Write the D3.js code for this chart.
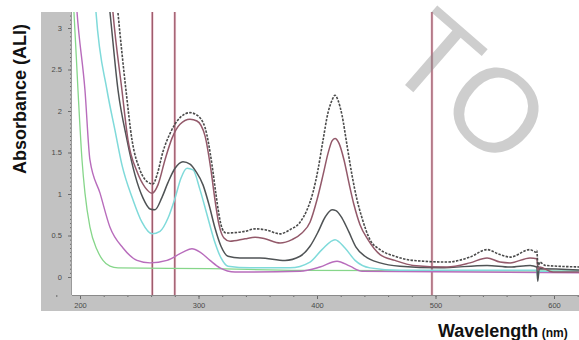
<!DOCTYPE html>
<html>
<head>
<meta charset="utf-8">
<script src="https://cdn.jsdelivr.net/npm/d3@7"></script>
<style>
  html, body { margin: 0; padding: 0; background: #fff; }
  svg { display: block; font-family: "Liberation Sans", Arial, sans-serif; }
</style>
</head>
<body>
<svg id="chart" width="579" height="340"></svg>
<script>
// spectra, [wavelength nm, absorbance]
const specTop = [[230,3.5],[232,3.19],[238.8,2.25],[243.9,1.65],[250.6,1.29],[257.4,1.14],[261.6,1.12],[265,1.23],[270,1.51],[276,1.73],[284.4,1.92],[292.8,1.98],[298.7,1.95],[305.5,1.8],[311.4,1.35],[314.8,0.99],[317.3,0.75],[319.8,0.59],[323.2,0.53],[339.2,0.55],[347.7,0.58],[356.1,0.57],[368.8,0.52],[377.2,0.57],[385.7,0.66],[391.6,0.81],[396.6,1.02],[400.8,1.29],[405.1,1.65],[409.3,1.98],[412.7,2.13],[415.2,2.19],[417.7,2.13],[421.1,1.95],[425.3,1.59],[429.5,1.23],[433.8,0.93],[438,0.71],[444.7,0.45],[453.2,0.33],[465.8,0.25],[481,0.2],[509.7,0.18],[529.1,0.24],[543.5,0.33],[554.4,0.27],[562.9,0.24],[579.8,0.33],[584.8,0.3],[585.5,0.32],[586.5,0.12],[588,0.18],[592.4,0.14],[625,0.12]];
const specMaroon = [[226,3.5],[227.8,3.19],[235.4,2.25],[240.5,1.65],[248.1,1.27],[254.9,1.08],[260.8,1.01],[265.8,1.11],[271.7,1.41],[277.6,1.67],[284.4,1.84],[292.8,1.9],[298.7,1.88],[305.5,1.7],[310.5,1.29],[313.9,0.93],[317.3,0.63],[321.5,0.47],[326.6,0.43],[339.2,0.46],[347.7,0.48],[356.1,0.46],[368.8,0.41],[378.9,0.45],[387.3,0.53],[394.1,0.66],[400,0.93],[405.1,1.23],[409.3,1.49],[412.7,1.64],[415.2,1.67],[418.6,1.61],[422.8,1.41],[427,1.13],[431.2,0.87],[436.3,0.63],[443,0.45],[453.2,0.27],[465.8,0.2],[481,0.14],[509.7,0.12],[529.1,0.17],[543.5,0.23],[554.4,0.18],[562.9,0.17],[579.8,0.23],[585.5,0.22],[586.5,0.08],[588,0.12],[599.2,0.06],[625,0.06]];
const specGrey = [[223,3.5],[225.3,3.19],[232.1,2.25],[239.7,1.65],[246.4,1.23],[253.2,0.95],[259.1,0.82],[263.3,0.81],[269.2,0.96],[274.3,1.14],[280.2,1.31],[286.9,1.39],[292.8,1.36],[297.9,1.27],[303.8,1.11],[308.9,0.87],[313.9,0.59],[319,0.37],[324.9,0.25],[335,0.23],[351.9,0.23],[373,0.2],[385.7,0.25],[394.1,0.37],[400.8,0.54],[406.8,0.72],[412.7,0.81],[416,0.8],[421.1,0.71],[427,0.54],[432.9,0.36],[440.5,0.25],[453.2,0.17],[470,0.13],[503.8,0.11],[543.5,0.14],[562.9,0.12],[579.8,0.14],[585.5,0.12],[586.3,-0.05],[587.5,0.1],[625,0.08]];
const specCyan = [[212,3.5],[213.5,3.19],[222.8,2.25],[229.5,1.77],[235.4,1.35],[244.7,0.93],[252.3,0.66],[260.8,0.52],[267.5,0.55],[274.3,0.71],[280.2,0.95],[285.2,1.19],[290.3,1.31],[295.4,1.29],[301.3,1.05],[307.2,0.75],[313.1,0.45],[319,0.23],[324.9,0.13],[343.5,0.11],[377.2,0.11],[394.1,0.18],[404.2,0.33],[415.2,0.45],[423.6,0.35],[432.1,0.2],[444.7,0.11],[470,0.08],[585.5,0.08],[586.3,0.0],[587.5,0.07],[625,0.07]];
const specMagenta = [[196,3.5],[197.5,3.19],[204.2,2.25],[208.4,1.41],[216.9,1.01],[225.3,0.6],[236.3,0.35],[248.1,0.2],[259.1,0.17],[273.4,0.2],[286.9,0.3],[294.5,0.34],[301.3,0.3],[309.7,0.2],[318.1,0.11],[330.8,0.06],[385.7,0.07],[402.5,0.12],[416.9,0.19],[427.8,0.13],[438,0.07],[625,0.05]];
const specGreen = [[193,3.6],[194.9,3.19],[198.3,2.25],[201.7,1.41],[204.2,1.01],[208.4,0.6],[214.3,0.33],[219.4,0.2],[225.3,0.13],[232.1,0.11],[309.7,0.1],[385.7,0.08],[625,0.07]];

const markerLines = [261, 280, 497];
const xTicks = [200, 300, 400, 500, 600];
const yTicks = [0, 0.5, 1, 1.5, 2, 2.5, 3];

const series = [
  { data: specGreen, color: '#86d68a', width: 1.3 },
  { data: specMagenta, color: '#b86cbc', width: 1.4 },
  { data: specCyan, color: '#7fdada', width: 1.5 },
  { data: specGrey, color: '#4f5355', width: 1.5 },
  { data: specMaroon, color: '#93596a', width: 1.5 },
  { data: specTop, color: '#4a4a4a', width: 1.6, dash: '2.5,1.3' }
];

const svg = d3.select('#chart');
const plot = { left: 72, top: 12, right: 579, bottom: 295 };

const x = d3.scaleLinear().domain([200, 600]).range([80, 554]);
const y = d3.scaleLinear().domain([0, 3]).range([277, 28]);

svg.append('rect').attr('width', 579).attr('height', 340).attr('fill', '#fff');

// grey frame around the plot, like the instrument software
svg.append('rect')
  .attr('x', 41).attr('y', plot.top)
  .attr('width', 579 - 41).attr('height', 311 - plot.top)
  .attr('fill', '#c2c2c2');
svg.append('rect')
  .attr('x', plot.left).attr('y', plot.top)
  .attr('width', plot.right - plot.left).attr('height', plot.bottom - plot.top)
  .attr('fill', '#fff');

svg.append('clipPath').attr('id', 'clip')
  .append('rect')
  .attr('x', plot.left).attr('y', plot.top)
  .attr('width', plot.right - plot.left).attr('height', plot.bottom - plot.top);

const inner = svg.append('g').attr('clip-path', 'url(#clip)');

// marker lines
inner.selectAll('line.mark-halo')
  .data(markerLines)
  .enter().append('line')
  .attr('class', 'mark-halo')
  .attr('x1', d => x(d)).attr('x2', d => x(d))
  .attr('y1', plot.top).attr('y2', plot.bottom)
  .attr('stroke', '#ecc6d0').attr('stroke-width', 2.6);
inner.selectAll('line.mark')
  .data(markerLines)
  .enter().append('line')
  .attr('class', 'mark')
  .attr('x1', d => x(d)).attr('x2', d => x(d))
  .attr('y1', plot.top).attr('y2', plot.bottom)
  .attr('stroke', '#8c4456').attr('stroke-width', 1.05);

const line = d3.line()
  .x(d => x(d[0]))
  .y(d => y(d[1]))
  .curve(d3.curveMonotoneX);

inner.selectAll('path.spec')
  .data(series)
  .enter().append('path')
  .attr('class', 'spec')
  .attr('d', d => line(d.data))
  .attr('fill', 'none')
  .attr('stroke', d => d.color)
  .attr('stroke-width', d => d.width)
  .attr('stroke-dasharray', d => d.dash || null)
  .attr('stroke-linejoin', 'round');

// axes
svg.append('g')
  .attr('transform', `translate(${plot.left},0)`)
  .call(d3.axisLeft(y).tickValues(yTicks).tickSize(4).tickPadding(6).tickFormat(d => d));
svg.append('g')
  .attr('transform', `translate(${plot.left},0)`)
  .call(d3.axisLeft(y).tickValues(d3.range(0, 3.2, 0.05)).tickSize(2).tickFormat(''));

svg.append('g')
  .attr('transform', `translate(0,${plot.bottom})`)
  .call(d3.axisBottom(x).tickValues(xTicks).tickSize(4).tickPadding(4).tickFormat(d => d));
svg.append('g')
  .attr('transform', `translate(0,${plot.bottom})`)
  .call(d3.axisBottom(x).tickValues(d3.range(180, 621, 20)).tickSize(2).tickFormat(''));

svg.selectAll('.domain').remove();
svg.selectAll('.tick line').attr('stroke', '#6a6a6a');
svg.selectAll('.tick text')
  .attr('fill', '#4a4a4a')
  .style('font-size', '7.5px');

svg.append('line')
  .attr('x1', plot.left).attr('x2', plot.right)
  .attr('y1', plot.bottom + 0.5).attr('y2', plot.bottom + 0.5)
  .attr('stroke', '#8a8a8a');
svg.append('line')
  .attr('x1', plot.left - 0.5).attr('x2', plot.left - 0.5)
  .attr('y1', plot.top).attr('y2', plot.bottom)
  .attr('stroke', '#9a9a9a');

// axis titles
svg.append('text')
  .attr('transform', 'translate(26,99) rotate(-90)')
  .attr('text-anchor', 'middle')
  .style('font-weight', 'bold')
  .style('font-size', '18px')
  .attr('fill', '#111')
  .text('Absorbance (ALI)');

const xt = svg.append('text')
  .attr('x', 438).attr('y', 337)
  .style('font-weight', 'bold')
  .attr('fill', '#111');
xt.append('tspan').style('font-size', '18px').text('Wavelength');
xt.append('tspan').style('font-size', '12px').text(' (nm)');

// watermark across the scan
svg.append('text')
  .attr('transform', 'translate(470,87) rotate(41)')
  .attr('text-anchor', 'middle')
  .attr('dominant-baseline', 'central')
  .style('font-size', '118px')
  .attr('fill', '#8c8c8c')
  .attr('opacity', 0.42)
  .text('TO');
</script>
</body>
</html>
